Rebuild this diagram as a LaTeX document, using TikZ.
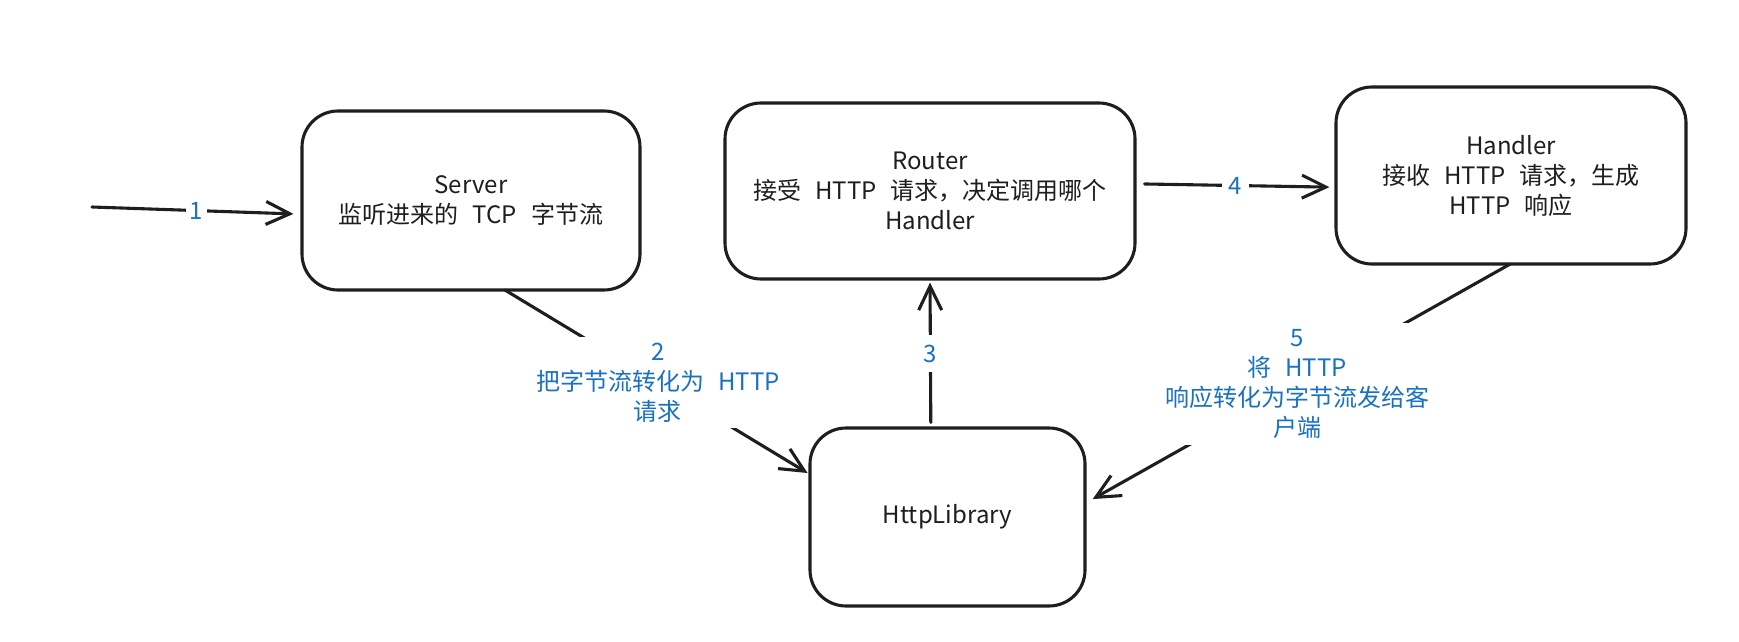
\documentclass[tikz,border=0pt]{standalone}
\usepackage{fontspec}
\setmainfont{Noto Sans CJK SC}[WordSpace=2.6]
\usetikzlibrary{arrows.meta,calc}
\definecolor{ink}{HTML}{1E1E1E}
\definecolor{blu}{HTML}{1971C2}
\begin{document}
\begin{tikzpicture}[x=1pt,y=-1pt,
  box/.style={draw=ink, line width=3.1pt, rounded corners=36pt, fill=white, align=center,
    font=\fontsize{24}{30}\selectfont, text=ink, inner sep=0pt},
  arr/.style={draw=ink, line width=3.1pt, line cap=round, -{Straight Barb[length=24pt,width=23pt]}},
  lbl/.style={fill=white, text=blu, align=center, font=\fontsize{24}{30}\selectfont, inner sep=6pt}]
\useasboundingbox (0,0) rectangle (1739,642);
\node[box, minimum width=338pt, minimum height=179pt] (server) at (471,200.5) {Server\\监听进来的 TCP 字节流};
\node[box, minimum width=410pt, minimum height=176pt] (router) at (930,191) {Router\\接受 HTTP 请求，决定调用哪个\\Handler};
\node[box, minimum width=350pt, minimum height=177pt] (handler) at (1511,175.5) {Handler\\接收 HTTP 请求，生成\\HTTP 响应};
\node[box, minimum width=275pt, minimum height=178pt] (lib) at (947.5,517) {HttpLibrary};
\coordinate (start) at (92,207);
% 1
\draw[arr, shorten >=7pt] (start) -- node[lbl, inner sep=4pt] {1} ($(server.north west)!0.575!(server.south west)$);
% 2
\draw[arr, shorten <=-3pt, shorten >=1pt] ($(server.south west)!0.607!(server.south east)$) -- node[lbl] {2\\把字节流转化为 HTTP\\请求} ($(lib.north west)!0.26!(lib.south west)$);
% 3
\draw[arr, shorten <=4pt, shorten >=2pt] ($(lib.north west)!0.44!(lib.north east)$) -- node[lbl, inner sep=10pt] {3} ($(router.south west)!0.5!(router.south east)$);
% 4
\draw[arr, shorten <=8pt, shorten >=5pt] ($(router.north east)!0.46!(router.south east)$) -- node[lbl, inner sep=7pt] {4} ($(handler.north west)!0.565!(handler.south west)$);
% 5
\draw[arr, shorten <=-3pt, shorten >=7pt] ($(handler.south west)!0.49!(handler.south east)$) -- node[lbl] {5\\将 HTTP\\响应转化为字节流发给客\\户端} ($(lib.north east)!0.42!(lib.south east)$);
\end{tikzpicture}
\end{document}
